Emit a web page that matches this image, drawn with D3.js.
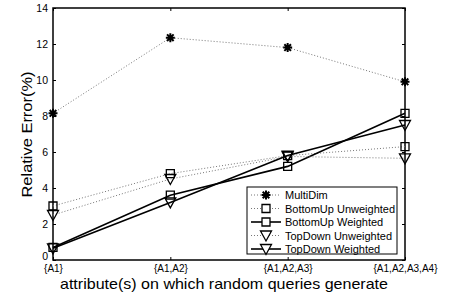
<!DOCTYPE html>
<html><head><meta charset="utf-8">
<script src="https://cdn.jsdelivr.net/npm/d3@7"></script>
<style>body{margin:0;background:#fff}svg{display:block}text{font-family:"Liberation Sans",Arial,sans-serif}</style>
</head><body><svg id="c" width="459" height="300"></svg>
<script>
const categories = ["{A1}", "{A1,A2}", "{A1,A2,A3}", "{A1,A2,A3,A4}"];
const yTicks = [0, 2, 4, 6, 8, 10, 12, 14];
const multiDim = [8.15, 12.35, 11.8, 9.9];
const bottomUpUnweighted = [3.0, 4.8, 5.8, 6.3];
const bottomUpWeighted = [0.7, 3.6, 5.2, 8.15];
const topDownUnweighted = [2.5, 4.5, 5.75, 5.65];
const topDownWeighted = [0.65, 3.2, 5.8, 7.5];
const seriesNames = ["MultiDim", "BottomUp Unweighted", "BottomUp Weighted", "TopDown Unweighted", "TopDown Weighted"];

const series = [
  {name: seriesNames[0], values: multiDim, marker: "star", dotted: true},
  {name: seriesNames[1], values: bottomUpUnweighted, marker: "square", dotted: true},
  {name: seriesNames[2], values: bottomUpWeighted, marker: "square", dotted: false},
  {name: seriesNames[3], values: topDownUnweighted, marker: "tri", dotted: true},
  {name: seriesNames[4], values: topDownWeighted, marker: "tri", dotted: false}
];

const svg = d3.select("#c");
const L = 53, R = 405, T = 8, B = 260;
const x = d3.scalePoint().domain(categories).range([L, R]);
const y = d3.scaleLinear().domain([0, 14]).range([B, T]);

svg.append("rect").attr("x", L).attr("y", T).attr("width", R - L).attr("height", B - T)
  .attr("fill", "none").attr("stroke", "#000").attr("stroke-width", 1.5);

const yAx = svg.append("g").attr("transform", `translate(${L},0)`)
  .call(d3.axisLeft(y).tickValues(yTicks).tickSize(-3).tickPadding(5));
const yAxR = svg.append("g").attr("transform", `translate(${R},0)`)
  .call(d3.axisRight(y).tickValues(yTicks).tickSize(-3).tickFormat(""));
const xAx = svg.append("g").attr("transform", `translate(0,${B})`)
  .call(d3.axisBottom(x).tickSize(-3).tickPadding(4));
const xAxT = svg.append("g").attr("transform", `translate(0,${T})`)
  .call(d3.axisTop(x).tickSize(-3).tickFormat(""));
[yAx, yAxR, xAx, xAxT].forEach(g => {
  g.select(".domain").remove();
  g.selectAll("line").attr("stroke", "#000");
});
yAx.selectAll("text").attr("font-size", 10.5).attr("fill", "#000").attr("font-family", "Liberation Sans, Arial, sans-serif");
yAx.selectAll(".tick").filter(d => d === 0).select("text").attr("dy", "-0.05em");
xAx.selectAll("text").attr("font-size", 10).attr("fill", "#000").attr("font-family", "Liberation Sans, Arial, sans-serif")
  .attr("dy", "0.75em");

svg.append("text").attr("x", 224).attr("y", 289).attr("text-anchor", "middle")
  .attr("font-size", 15).attr("textLength", 328).attr("lengthAdjust", "spacingAndGlyphs")
  .text("attribute(s) on which random queries generate");
svg.append("text").attr("transform", `translate(32,${134.5}) rotate(-90)`).attr("text-anchor", "middle")
  .attr("font-size", 15.5).attr("textLength", 126).attr("lengthAdjust", "spacingAndGlyphs")
  .text("Relative Error(%)");

function markerPath(type) {
  if (type === "square") return "M-4,-4H4V4H-4Z";
  if (type === "tri") return "M-5.5,-4.5H5.5L0,5.5Z";
  return "M-4.5,0H4.5M0,-4.5V4.5M-3.3,-3.3L3.3,3.3M-3.3,3.3L3.3,-3.3";
}

const line = d3.line().x((d, i) => x(categories[i])).y(d => y(d));
const plot = svg.append("g");
series.forEach(s => {
  plot.append("path").attr("d", line(s.values)).attr("fill", "none")
    .attr("stroke", s.dotted ? "#777" : "#000")
    .attr("stroke-width", s.dotted ? 1 : 1.6)
    .attr("stroke-dasharray", s.dotted ? "1,2" : null);
  plot.selectAll(null).data(s.values).enter().append("path")
    .attr("transform", (d, i) => `translate(${x(categories[i])},${y(d)})`)
    .attr("d", markerPath(s.marker))
    .attr("fill", "none").attr("stroke", "#000")
    .attr("stroke-width", s.marker === "star" ? 2 : 1.3);
});

const lg = svg.append("g");
lg.append("rect").attr("x", 247).attr("y", 187).attr("width", 150).attr("height", 67)
  .attr("fill", "#fff").attr("stroke", "#000").attr("stroke-width", 1);
series.forEach((s, i) => {
  const yy = 195 + i * 13.5;
  lg.append("line").attr("x1", 251).attr("x2", 281).attr("y1", yy).attr("y2", yy)
    .attr("stroke", s.dotted ? "#777" : "#000").attr("stroke-width", s.dotted ? 1 : 1.6)
    .attr("stroke-dasharray", s.dotted ? "1,2" : null);
  lg.append("path").attr("transform", `translate(266,${yy})`).attr("d", markerPath(s.marker))
    .attr("fill", s.marker === "star" ? "none" : "#fff").attr("stroke", "#000")
    .attr("stroke-width", s.marker === "star" ? 2 : 1.3);
  lg.append("text").attr("x", 285).attr("y", yy + 4).attr("font-size", 11).text(s.name);
});
</script></body></html>
